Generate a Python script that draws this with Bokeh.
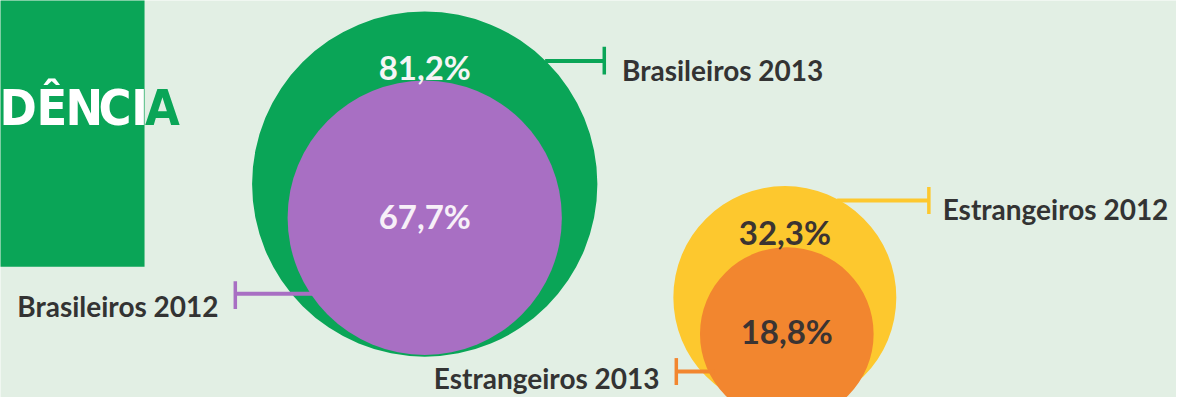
from bokeh.plotting import figure
from bokeh.models import Range1d, ColumnDataSource
from bokeh.core.properties import value
from bokeh.embed import file_html
from bokeh.resources import INLINE

# ---- data ----
series = ["Brasileiros 2013", "Brasileiros 2012", "Estrangeiros 2012", "Estrangeiros 2013"]
values = [81.2, 67.7, 32.3, 18.8]
title_letters = ["D", "Ê", "N", "C", "I", "A"]   # visible tail of "PROCEDÊNCIA"

# ---- layout (reference pixel coordinates) ----
circle_x = [430, 430, 795, 797]
circle_y = [191, 226, 309, 347]
circle_r = [175, 139, 113, 88]
pct_base = [69, 224, 241, 344]
fills = ["#0aa557", "#a86fc3", "#fdc82e", "#f2862f"]
pct_colors = ["#f5f5f5", "#f7f0f8", "#3b3432", "#3b3432"]

lab_x = [630, 221, 955, 668]
lab_y = [72, 318, 217, 393]
lab_align = ["left", "right", "left", "right"]
# bracket: horizontal line (x0, x1, y) and end tick (tx, ty0, ty1)
br_x0 = [552, 238, 848, 685]
br_x1 = [612, 318, 941, 724]
br_y = [63, 305, 208, 386]
tk_x = [612, 238, 941, 685]
tk_y0 = [48, 292, 194, 372]
tk_y1 = [77, 321, 222, 400]

title_x = [18, 52, 85, 116, 141, 164]
title_colors = ["#ffffff"] * 5 + ["#0aa557"]

bg = "#e2efe4"
dark = "#333333"

p = figure(width=1176, height=397, x_range=Range1d(0, 1192), y_range=Range1d(413, 0),
           output_backend="svg", toolbar_location=None, min_border=0)
p.axis.visible = False
p.grid.visible = False
p.outline_line_color = None
p.background_fill_color = bg
p.border_fill_color = bg

# green title panel
p.quad(left=[-20], right=[146], top=[-20], bottom=[277], fill_color="#0aa557", line_color=None)
p.text(x=title_x, y=[112] * len(title_x), text=title_letters,
       text_font=value("DejaVu Sans Condensed"), text_font_style="bold", text_font_size="50px",
       text_align="center", text_baseline="alphabetic", text_color=title_colors)

labels = [f"{v:.1f}%".replace(".", ",") for v in values]
src = ColumnDataSource(dict(x=circle_x, y=circle_y, r=circle_r, fill=fills,
                            pb=pct_base, lab=labels, pc=pct_colors))
p.circle(x="x", y="y", radius="r", fill_color="fill", line_color=None, source=src)
p.text(x="x", y="pb", text="lab", text_color="pc", text_font=value("Lato"),
       text_font_style="bold", text_font_size="33px", text_align="center",
       text_baseline="alphabetic", source=src)

bsrc = ColumnDataSource(dict(x0=br_x0, x1=br_x1, y=br_y, tx=tk_x, ty0=tk_y0, ty1=tk_y1, c=fills))
p.segment(x0="x0", y0="y", x1="x1", y1="y", line_color="c", line_width=4, source=bsrc)
p.segment(x0="tx", y0="ty0", x1="tx", y1="ty1", line_color="c", line_width=3.5, source=bsrc)

lsrc = ColumnDataSource(dict(x=lab_x, y=lab_y, t=series, a=lab_align))
p.text(x="x", y="y", text="t", text_align="a", text_baseline="alphabetic",
       text_font=value("Lato"), text_font_style="bold", text_font_size="28px",
       text_color=dark, source=lsrc)

open("out.html", "w").write(file_html(p, INLINE))
